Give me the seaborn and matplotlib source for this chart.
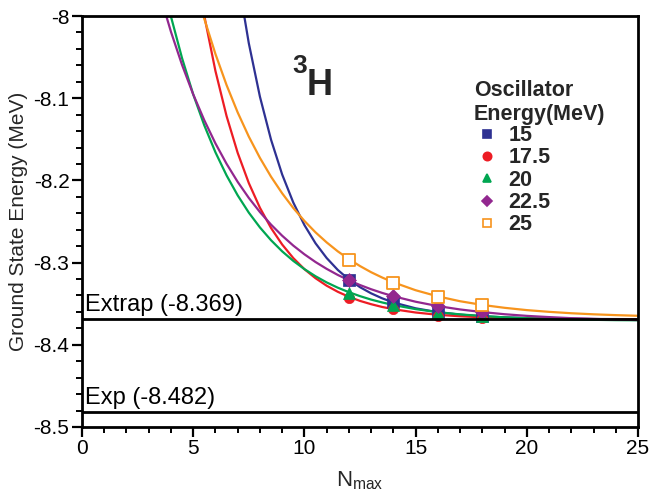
import numpy as np
import pandas as pd
import matplotlib
matplotlib.use("Agg")
import matplotlib.pyplot as plt
import seaborn as sns
from matplotlib.ticker import MultipleLocator

# ---------------- data ----------------
omega_labels = ["15", "17.5", "20", "22.5", "25"]
nmax_points = [12, 14, 16, 18]
e_15 = [-8.3207, -8.3480, -8.3600, -8.3654]
e_17_5 = [-8.3430, -8.3565, -8.3654, -8.3675]
e_20 = [-8.3370, -8.3520, -8.3613, -8.3654]
e_22_5 = [-8.3216, -8.3402, -8.3533, -8.3606]
e_25 = [-8.2972, -8.3244, -8.3415, -8.3516]

nan = np.nan
nmax_curve = [3.5, 4, 4.5, 5, 5.5, 6, 6.5, 7, 7.5, 8, 8.5, 9, 9.5, 10, 10.5,
              11, 11.5, 12, 12.5, 13, 13.5, 14,
              15, 16, 17, 18, 19, 20, 21, 22, 23, 24, 25]
fit_15 = [nan, nan, nan, nan, nan, nan, nan,
          -7.9525, -8.0331, -8.0981, -8.1505, -8.1928, -8.2269, -8.2543, -8.2765,
          -8.2944, -8.3089, -8.3205, -8.3299, -8.3374, -8.3435, -8.3485,
          -8.3556, -8.3603, -8.3633, -8.3653, -8.3666, -8.3674, -8.3680, -8.3683,
          -8.3686, -8.3687, -8.3688]
fit_17_5 = [nan, nan, nan,
            -7.9184, -8.0000, -8.0669, -8.1217, -8.1665, -8.2032, -8.2333, -8.2579,
            -8.2780, -8.2945, -8.3080, -8.3190, -8.3281, -8.3355, -8.3416, -8.3466,
            -8.3506, -8.3540, -8.3567,
            -8.3607, -8.3635, -8.3653, -8.3665, -8.3673, -8.3679, -8.3683, -8.3685,
            -8.3687, -8.3688, -8.3688]
fit_20 = [-7.9419, -8.0007, -8.0514, -8.0953, -8.1331, -8.1658, -8.1939, -8.2182,
          -8.2392, -8.2572, -8.2728, -8.2863, -8.2979, -8.3079, -8.3166, -8.3241,
          -8.3305, -8.3360, -8.3408, -8.3450, -8.3485, -8.3516,
          -8.3566, -8.3603, -8.3630, -8.3650, -8.3666, -8.3677, -8.3685, -8.3692,
          -8.3696, -8.3700, -8.3702]
fit_22_5 = [-7.9736, -8.0192, -8.0596, -8.0953, -8.1269, -8.1550, -8.1798, -8.2018,
            -8.2213, -8.2385, -8.2538, -8.2673, -8.2793, -8.2899, -8.2993, -8.3076,
            -8.3150, -8.3215, -8.3273, -8.3324, -8.3369, -8.3409,
            -8.3476, -8.3529, -8.3570, -8.3602, -8.3628, -8.3648, -8.3663, -8.3676,
            -8.3685, -8.3693, -8.3699]
fit_25 = [nan, nan, nan,
          -7.9550, -8.0035, -8.0462, -8.0840, -8.1173, -8.1467, -8.1726, -8.1955,
          -8.2157, -8.2336, -8.2493, -8.2632, -8.2754, -8.2863, -8.2958, -8.3042,
          -8.3117, -8.3182, -8.3240,
          -8.3336, -8.3411, -8.3470, -8.3515, -8.3550, -8.3578, -8.3599, -8.3616,
          -8.3629, -8.3639, -8.3647]

extrap_value = -8.369
exp_value = -8.482

# ---------------- styling ----------------
colors = ["#2e3192", "#ed1c24", "#00a651", "#92278f", "#f7941d"]
markers = ["s", "o", "^", "D", "s"]
msizes = [70, 55, 75, 50, 70]

sns.set_style("ticks")
plt.rcParams["font.family"] = ["Liberation Sans", "DejaVu Sans"]
plt.rcParams["mathtext.fontset"] = "custom"
plt.rcParams["mathtext.rm"] = "Liberation Sans"

fig = plt.figure(figsize=(6.49, 4.97), dpi=100)
ax = fig.add_axes([82 / 649, 1 - 427 / 497, (638 - 82) / 649, (427 - 16) / 497])

point_sets = [e_15, e_17_5, e_20, e_22_5, e_25]
curve_sets = [fit_15, fit_17_5, fit_20, fit_22_5, fit_25]

curves = pd.concat([
    pd.DataFrame({"Nmax": nmax_curve, "E": c, "omega": lab})
    for c, lab in zip(curve_sets, omega_labels)
]).dropna()
sns.lineplot(data=curves, x="Nmax", y="E", hue="omega", palette=colors,
             hue_order=omega_labels, legend=False, ax=ax, linewidth=1.6,
             sort=False, estimator=None)

handles = []
for i, (pts, lab) in enumerate(zip(point_sets, omega_labels)):
    df = pd.DataFrame({"Nmax": nmax_points, "E": pts})
    if i == 4:
        sns.scatterplot(data=df, x="Nmax", y="E", marker="s", s=msizes[i],
                        facecolor="white", edgecolor=colors[i], linewidth=1.3,
                        ax=ax, zorder=5)
    else:
        sns.scatterplot(data=df, x="Nmax", y="E", marker=markers[i], s=msizes[i],
                        color=colors[i], edgecolor=colors[i], linewidth=0.5,
                        ax=ax, zorder=5)
    handles.append(plt.Line2D([], [], linestyle="none", marker=markers[i],
                              markersize=6 if markers[i] != "D" else 5,
                              markerfacecolor="white" if i == 4 else colors[i],
                              markeredgecolor=colors[i], markeredgewidth=1.2,
                              label=lab))

ax.axhline(extrap_value, color="black", linewidth=2, zorder=6)
ax.axhline(exp_value, color="black", linewidth=2, zorder=6)
ax.text(0.12, extrap_value + 0.004, "Extrap (-8.369)", fontsize=17,
        ha="left", va="bottom", color="black")
ax.text(0.12, exp_value + 0.004, "Exp (-8.482)", fontsize=17,
        ha="left", va="bottom", color="black")

ax.text(9.45, -8.069, "3", fontsize=19, fontweight="bold", ha="left", va="baseline")
ax.text(10.1, -8.096, "H", fontsize=26, fontweight="bold", ha="left", va="baseline")

leg = ax.legend(handles=handles, title="Oscillator\nEnergy(MeV)",
                loc="upper left", bbox_to_anchor=((474 - 82) / 556, 1 - (80 - 16) / 411),
                frameon=False, prop={"weight": "bold", "size": 15.5},
                title_fontproperties={"weight": "bold", "size": 15.5},
                handlelength=1.2, handletextpad=0.4, labelspacing=0.06,
                borderpad=0, borderaxespad=0, alignment="left")
leg._legend_box.sep = 0

ax.set_xlim(0, 25)
ax.set_ylim(-8.5, -8.0)
ax.xaxis.set_major_locator(MultipleLocator(5))
ax.xaxis.set_minor_locator(MultipleLocator(1))
ax.yaxis.set_minor_locator(MultipleLocator(0.02))
ax.set_yticks([-8.5, -8.4, -8.3, -8.2, -8.1, -8.0])
ax.set_yticklabels(["-8.5", "-8.4", "-8.3", "-8.2", "-8.1", "-8"])
ax.tick_params(axis="both", which="major", direction="out", length=7, width=1.6,
               labelsize=15, color="black", labelcolor="black", pad=2)
ax.tick_params(axis="both", which="minor", direction="out", length=4, width=1.4,
               color="black")
for sp in ax.spines.values():
    sp.set_linewidth(2)
    sp.set_color("black")
    sp.set_visible(True)

ax.set_xlabel(r"N$_{\mathrm{max}}$", fontsize=16, labelpad=8)
ax.set_ylabel("Ground State Energy (MeV)", fontsize=15, labelpad=4)

fig.savefig("out.png", dpi=100, facecolor="white")
